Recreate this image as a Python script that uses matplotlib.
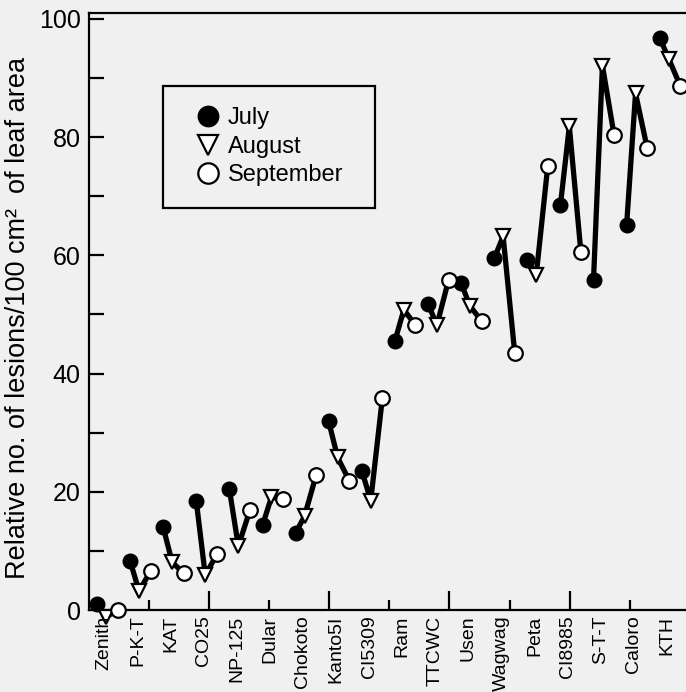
import matplotlib
matplotlib.use("Agg")
import matplotlib.pyplot as plt
import numpy as np

cultivars = ["Zenith", "P-K-T", "KAT", "CO25", "NP-125", "Dular", "Chokoto",
             "Kanto5I", "CI5309", "Ram", "TTCWC", "Usen", "Wagwag", "Peta",
             "CI8985", "S-T-T", "Caloro", "KTH"]
july = [1.0, 8.3, 14.0, 18.4, 20.4, 14.3, 13.0, 31.9, 23.6, 45.5, 51.8, 55.3,
        59.5, 59.2, 68.5, 55.8, 65.1, 96.8]
august = [-1.2, 3.2, 8.1, 5.9, 10.8, 19.1, 15.9, 25.8, 18.5, 50.8, 48.2, 51.4,
          63.2, 56.7, 81.8, 92.1, 87.4, 93.3]
september = [0.0, 6.6, 6.2, 9.4, 16.9, 18.7, 22.8, 21.9, 35.8, 48.2, 55.8, 48.9,
             43.5, 75.2, 60.5, 80.4, 78.2, 88.7]
months = ["July", "August", "September"]
yticks = [0, 20, 40, 60, 80, 100]

bg = "#f0f0f0"
plt.rcParams["font.family"] = ["Liberation Sans", "DejaVu Sans"]

fig = plt.figure(figsize=(6.86, 6.92), dpi=100, facecolor=bg)
ax = fig.add_axes([89 / 686, 82 / 692, (686 - 89) / 686, 597 / 692], facecolor=bg)

x = np.arange(len(cultivars))
offs = [0.0, 0.27, 0.62]
for i in range(len(cultivars)):
    ax.plot([x[i] + offs[0], x[i] + offs[1], x[i] + offs[2]],
            [july[i], august[i], september[i]],
            color="black", lw=3.8, solid_capstyle="butt", zorder=2, clip_on=False)

ax.plot(x + offs[0], july, "o", ms=10.5, mfc="black", mec="black", ls="none",
        label=months[0], zorder=3, clip_on=False)
ax.plot(x + offs[1], august, "v", ms=10, mfc="white", mec="black", mew=1.6,
        ls="none", label=months[1], zorder=4, clip_on=False)
ax.plot(x + offs[2], september, "o", ms=10.5, mfc="white", mec="black", mew=1.6,
        ls="none", label=months[2], zorder=4, clip_on=False)

x0 = -8 / 33.1
x1 = (686 - 97) / 33.1
ax.set_xlim(x0, x1)
ax.set_ylim(0, 101)

for s in ["left", "bottom", "top"]:
    ax.spines[s].set_linewidth(1.6)
ax.spines["right"].set_visible(False)

# category labels
ax.set_xticks(x + 0.22)
ax.set_xticklabels(cultivars, rotation=90, fontsize=14, va="top", ha="center")
ax.tick_params(axis="x", which="major", length=0, pad=4)
ax.xaxis.set_zorder(5)

# tick marks along the x-axis
step = 1.815
tpos = [x0 + step * k for k in range(1, 10)]
ax.set_xticks([t for k, t in enumerate(tpos) if k % 2 == 0], minor=True)
ax.tick_params(axis="x", which="minor", direction="in", length=7, width=1.6)
sec = ax.secondary_xaxis("bottom")
sec.set_xticks([t for k, t in enumerate(tpos) if k % 2 == 1])
sec.tick_params(direction="in", length=14, width=1.6, labelbottom=False)
sec.spines["bottom"].set_visible(False)

ax.set_yticks(yticks)
ax.set_yticklabels([str(v) for v in yticks], fontsize=18)
ax.set_yticks([10, 30, 50, 70, 90], minor=True)
ax.tick_params(axis="y", which="both", direction="in", length=11, width=1.6, pad=6)

ax.set_ylabel("Relative no. of lesions/100 cm²  of leaf area", fontsize=19.5)
ax.yaxis.set_label_coords(-0.097, 0.49)

leg = ax.legend(loc="upper left", bbox_to_anchor=(74 / 597, 524 / 597, 212 / 597, 0.0),
                mode="expand", fontsize=17, frameon=True, fancybox=False,
                edgecolor="black", facecolor=bg, framealpha=1, markerscale=1.4,
                borderpad=0.9, handlelength=2.0, handletextpad=-0.15,
                labelspacing=0.28, borderaxespad=0)
leg.get_frame().set_linewidth(1.6)
leg.set_zorder(6)

fig.savefig("out.png", dpi=100, facecolor=bg)
